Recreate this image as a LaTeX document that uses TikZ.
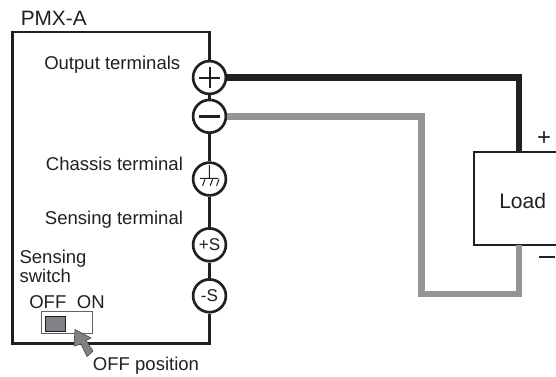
\documentclass[tikz,border=0pt]{standalone}
\usepackage{fontspec}
\setmainfont{Liberation Sans}
\definecolor{ink}{HTML}{231F20}
\definecolor{wiregray}{HTML}{939598}
\definecolor{fillgray}{HTML}{808285}
\tikzset{
  every node/.style={font=\fontsize{13.9}{16}\selectfont,text=ink,inner sep=0pt},
  term/.style={circle,draw=ink,line width=2pt,fill=white,minimum size=24.6pt,font=\fontsize{12.8}{15}\selectfont},
  lbl/.style={anchor=base west},
  bline/.style={draw=ink,line width=2pt},
  blackwire/.style={draw=ink,line width=5.2pt,line join=miter},
  graywire/.style={draw=wiregray,line width=5.2pt,line join=miter},
  sym/.style={draw=ink,line width=1.5pt},
  thin sym/.style={draw=ink,line width=0.75pt}
}
\begin{document}
\begin{tikzpicture}[x=0.75pt,y=-0.75pt]
\useasboundingbox (0,0) rectangle (556,376);
% coordinates
\coordinate (boxTL) at (12.3,32);
\coordinate (boxTR) at (209.5,32);
\coordinate (boxBL) at (12.3,343.3);
\coordinate (boxBR) at (209.5,343.3);
\coordinate (bk1) at (519,77.5);
\coordinate (gy1) at (421.5,116.5);
\coordinate (gy2) at (421.5,294);
\coordinate (gy3) at (519,294);
% load and wires
\node[anchor=north west,draw=ink,line width=2pt,fill=white,minimum width=90pt,minimum height=69.75pt,outer sep=0pt] (load) at (474,152) {};
\node (loadtxt) [lbl,font=\fontsize{15.8}{18}\selectfont] at (499,208) {Load};
% terminal nodes
\node[term] (plus) at (209.5,77.5) {};
\node[term] (minus) at (209.5,116.3) {};
\node[term] (gnd) at (209.5,179) {};
\node[term] (ps) at (209.5,244.8) {+S};
\node[term] (ms) at (209.5,295.8) {-S};
% wires
\draw[blackwire] (plus.east |- bk1) -- (bk1) -- (bk1 |- load.north);
\draw[graywire] (minus.east |- gy1) -- (gy1) -- (gy2) -- (gy3) -- (gy3 |- load.south);
% box
\draw[bline,line cap=rect] (boxTR) -- (boxTL) -- (boxBL) -- (boxBR);
\draw[bline] (boxTR) -- (plus.north);
\draw[bline] (plus.south) -- (minus.north);
\draw[bline] (minus.south) -- (gnd.north);
\draw[bline] (gnd.south) -- (ps.north);
\draw[bline] (ps.south) -- (ms.north);
\draw[bline] (ms.south) -- (boxBR);
% symbols
\draw[sym] (plus.center) ++(-10.5,0) -- ++(21,0);
\draw[sym] (plus.center) ++(0,-10.5) -- ++(0,21);
\draw[draw=ink,line width=2.4pt] (minus.center) ++(-10.5,0) -- ++(21,0);
\draw[thin sym] (209.3,165) -- (209.3,178.3) (200,178.3) -- (218.3,178.3)
  (205,179.3) -- (202.6,185.7) (212.6,179.3) -- (210.2,185.7) (219,179.3) -- (216.6,185.7);
% labels
\node (pmx) [lbl,font=\fontsize{15.6}{18}\selectfont] at (20.5,25) {PMX-A};
\node (o) [lbl] at (44,69) {Output terminals};
\node (c) [lbl] at (45.7,170) {Chassis terminal};
\node (s) [lbl] at (44.7,224) {Sensing terminal};
\node (sw1) [lbl] at (19.3,263.3) {Sensing};
\node (sw2) [lbl] at (19.3,282.7) {switch};
\node (off) [lbl] at (29,308) {OFF};
\node (on) [lbl] at (76.7,308) {ON};
\node (offp) [lbl] at (92.7,370.7) {OFF position};
\node (pl) at (544,139) {\fontsize{18}{20}\selectfont +};
\draw[draw=ink,line width=1.2pt] (539.3,256.7) -- (555,256.7);
% switch
\draw[draw=ink!70,line width=0.7pt,fill=white] (41.7,311.7) rectangle (92.7,333.3);
\draw[draw=ink,line width=0.6pt,fill=fillgray] (45,316) rectangle (65,331);
\draw[draw=ink!80,line width=0.5pt,fill=fillgray,line join=miter]
  (75,329.5) -- (91,338) -- (86,340.5) -- (93,351) -- (87,356.5) -- (81,344) -- (74,346) -- cycle;
\end{tikzpicture}
\end{document}
